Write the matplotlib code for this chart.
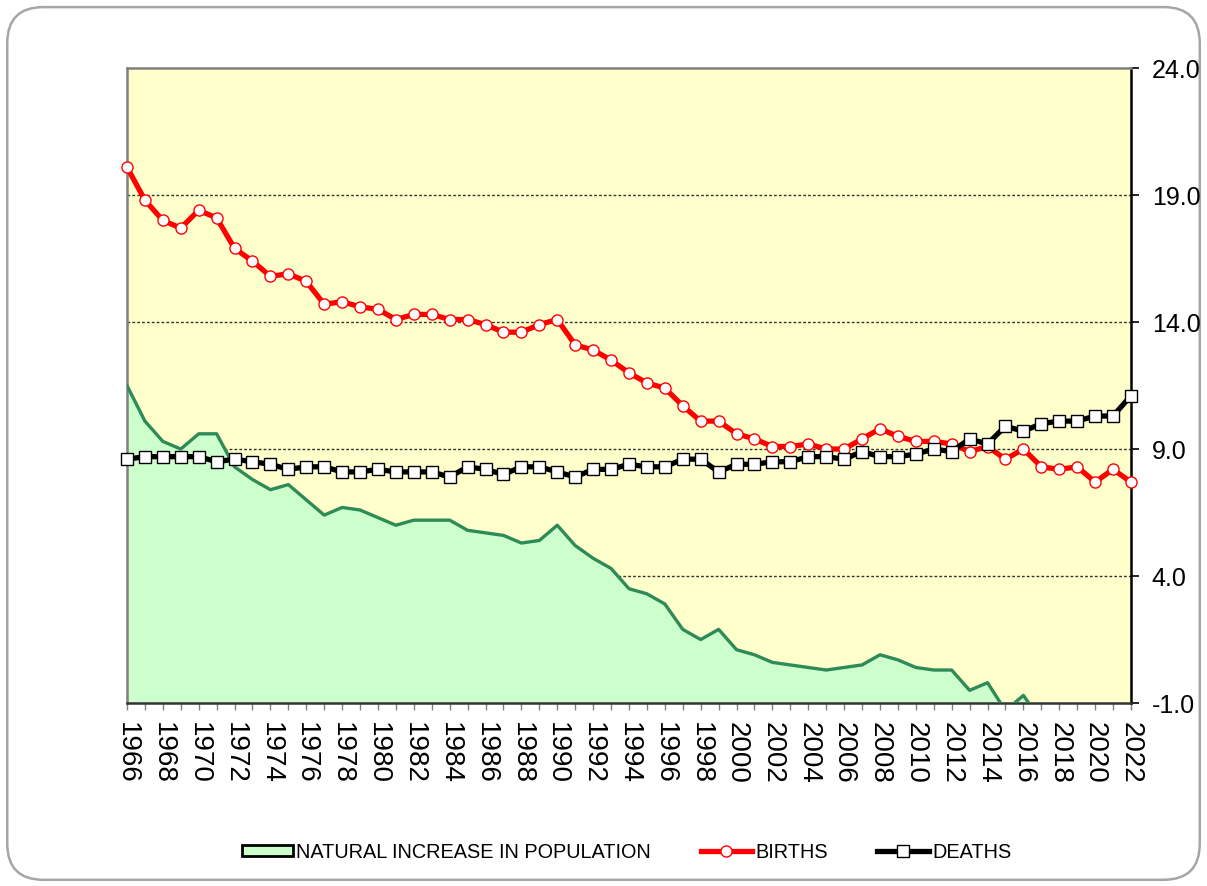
import numpy as np
import matplotlib
matplotlib.use('Agg')
import matplotlib.pyplot as plt
from matplotlib.patches import FancyBboxPatch, Patch
from matplotlib.lines import Line2D

plt.rcParams['font.family'] = ['Liberation Sans', 'DejaVu Sans']

years = list(range(1966, 2023))

births = [20.1, 18.8, 18.0, 17.7, 18.4, 18.1, 16.9, 16.4, 15.8, 15.9,
          15.6, 14.7, 14.8, 14.6, 14.5, 14.1, 14.3, 14.3, 14.1, 14.1,
          13.9, 13.6, 13.6, 13.9, 14.1, 13.1, 12.9, 12.5, 12.0, 11.6,
          11.4, 10.7, 10.1, 10.1, 9.6, 9.4, 9.1, 9.1, 9.2, 9.0,
          9.0, 9.4, 9.8, 9.5, 9.3, 9.3, 9.2, 8.9, 9.1, 8.6,
          9.0, 8.3, 8.2, 8.3, 7.7, 8.2, 7.7]

deaths = [8.6, 8.7, 8.7, 8.7, 8.7, 8.5, 8.6, 8.5, 8.4, 8.2,
          8.3, 8.3, 8.1, 8.1, 8.2, 8.1, 8.1, 8.1, 7.9, 8.3,
          8.2, 8.0, 8.3, 8.3, 8.1, 7.9, 8.2, 8.2, 8.4, 8.3,
          8.3, 8.6, 8.6, 8.1, 8.4, 8.4, 8.5, 8.5, 8.7, 8.7,
          8.6, 8.9, 8.7, 8.7, 8.8, 9.0, 8.9, 9.4, 9.2, 9.9,
          9.7, 10.0, 10.1, 10.1, 10.3, 10.3, 11.1]

natural = [11.5, 10.1, 9.3, 9.0, 9.6, 9.6, 8.3, 7.8, 7.4, 7.6,
           7.0, 6.4, 6.7, 6.6, 6.3, 6.0, 6.2, 6.2, 6.2, 5.8,
           5.7, 5.6, 5.3, 5.4, 6.0, 5.2, 4.7, 4.3, 3.5, 3.3,
           2.9, 1.9, 1.5, 1.9, 1.1, 0.9, 0.6, 0.5, 0.4, 0.3,
           0.4, 0.5, 0.9, 0.7, 0.4, 0.3, 0.3, -0.5, -0.2, -1.3,
           -0.7, -1.7, -1.9, -1.8, -2.6, -2.1, -3.4]

y_ticks = [-1.0, 4.0, 9.0, 14.0, 19.0, 24.0]

fig = plt.figure(figsize=(12.07, 8.86), dpi=100)
fig.patch.set_facecolor('white')

# rounded frame around the whole chart
frame = FancyBboxPatch((0.006, 0.007), 0.988, 0.985,
                       boxstyle='round,pad=0,rounding_size=0.03',
                       transform=fig.transFigure, facecolor='none',
                       edgecolor='#a6a6a6', linewidth=1.8, zorder=-1,
                       mutation_aspect=1207 / 886)
fig.patches.append(frame)

ax = fig.add_axes([0.1052, 0.2065, 0.8318, 0.7167])
ax.set_facecolor('#FFFFCC')

for yv in y_ticks[1:-1]:
    ax.axhline(yv, color='#333333', linestyle=(0, (2, 1.5)), linewidth=1.0, zorder=1)

ax.fill_between(years, natural, -1, color='#CCFFCC', linewidth=0, zorder=2)
ax.plot(years, natural, color='#2E8B57', linewidth=2.4, zorder=3)

ax.plot(years, births, color='#FF0000', linewidth=3.8, marker='o',
        markersize=8, markerfacecolor='white', markeredgecolor='#FF0000',
        markeredgewidth=1.0, zorder=4, clip_on=False)
ax.plot(years, deaths, color='black', linewidth=3.8, marker='s',
        markersize=8.5, markerfacecolor='white', markeredgecolor='black',
        markeredgewidth=1.0, zorder=5, clip_on=False)

ax.set_xlim(1966, 2022)
ax.set_ylim(-1, 24)

ax.set_xticks(years)
ax.set_xticklabels([str(y) if y % 2 == 0 else '' for y in years],
                   rotation=270, fontsize=20)
ax.tick_params(axis='x', direction='out', length=5, width=1, color='#808080', pad=9)

ax.yaxis.tick_right()
ax.set_yticks(y_ticks)
ax.set_yticklabels(['%.1f' % v for v in y_ticks], fontsize=18)
ax.tick_params(axis='y', direction='out', length=6, width=1.2, color='black', pad=9)

ax.spines['left'].set_color('#808080')
ax.spines['top'].set_color('#808080')
ax.spines['right'].set_color('black')
ax.spines['bottom'].set_color('#333333')
for s in ax.spines.values():
    s.set_linewidth(1.8)

handles = [
    Patch(facecolor='#CCFFCC', edgecolor='black', linewidth=2),
    Line2D([], [], color='#FF0000', linewidth=3.8, marker='o', markersize=8,
           markerfacecolor='white', markeredgecolor='#FF0000'),
    Line2D([], [], color='black', linewidth=3.8, marker='s', markersize=8,
           markerfacecolor='white', markeredgecolor='black'),
]
labels = ['NATURAL INCREASE IN POPULATION', 'BIRTHS', 'DEATHS']
fig.legend(handles, labels, loc='center', bbox_to_anchor=(0.519, 0.038),
           ncol=3, frameon=False, fontsize=14.3, handlelength=2.6,
           handleheight=0.5, handletextpad=0.15, columnspacing=2.5)

fig.savefig('out.png', dpi=100)
